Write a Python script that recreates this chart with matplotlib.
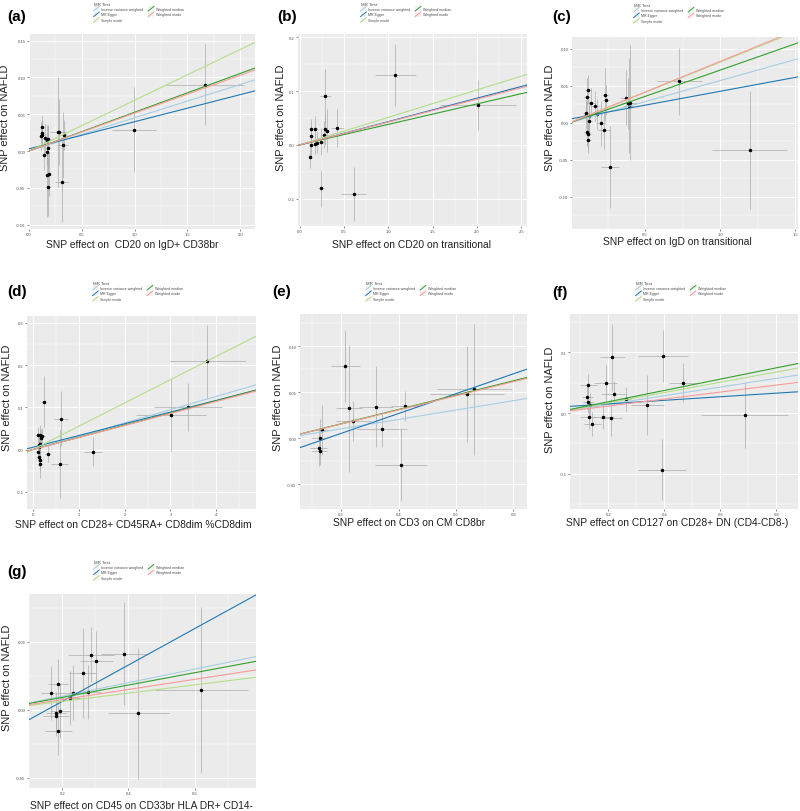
import numpy as np
import matplotlib as mpl
mpl.use('Agg')
import matplotlib.pyplot as plt
from matplotlib.lines import Line2D
from matplotlib.patches import Rectangle
from matplotlib.legend_handler import HandlerBase
from matplotlib.ticker import MultipleLocator, AutoMinorLocator

mpl.rcParams['font.family'] = ['Liberation Sans', 'DejaVu Sans']
mpl.rcParams['axes.unicode_minus'] = False

# ---- data -------------------------------------------------------------
methods = ["Inverse variance weighted", "MR Egger", "Simple mode",
           "Weighted median", "Weighted mode"]
method_colors = ["#A6CEE3", "#1F78B4", "#B2DF8A", "#33A02C", "#FB9A99"]

# (a)
a_bx = [0.123, 0.114, 0.126, 0.123, 0.151, 0.180, 0.170, 0.177, 0.167, 0.139,
        0.167, 0.192, 0.177, 0.278, 0.287, 0.334, 0.319, 0.309, 0.994, 1.666]
a_by = [0.032, 0.020, 0.024, 0.022, 0.017, 0.016, 0.015, 0.004, -0.001, -0.006,
        -0.033, -0.031, -0.049, 0.026, 0.026, 0.022, 0.008, -0.042, 0.029, 0.090]
a_sx = [0.02, 0.02, 0.02, 0.02, 0.02, 0.02, 0.02, 0.02, 0.02, 0.02,
        0.02, 0.02, 0.02, 0.08, 0.03, 0.03, 0.05, 0.065, 0.21, 0.37]
a_sy = [0.016, 0.020, 0.018, 0.015, 0.020, 0.020, 0.020, 0.030, 0.020, 0.020,
        0.057, 0.030, 0.040, 0.075, 0.045, 0.020, 0.045, 0.055, 0.058, 0.055]
a_slopes = [0.0452, 0.0368, 0.069, 0.0527, 0.0515]
a_egger_int = 0.003

# (b)
b_bx = [0.125, 0.128, 0.125, 0.121, 0.170, 0.177, 0.189, 0.245, 0.272, 0.283,
        0.290, 0.302, 0.426, 0.238, 0.611, 1.079, 2.008]
b_by = [0.030, 0.017, -0.0006, -0.023, 0.029, 0.002, 0.004, 0.006, 0.019, 0.030,
        0.090, 0.026, 0.031, -0.081, -0.091, 0.130, 0.074]
b_sx = [0.02, 0.02, 0.02, 0.02, 0.03, 0.02, 0.02, 0.03, 0.03, 0.03,
        0.066, 0.03, 0.075, 0.03, 0.14, 0.23, 0.43]
b_sy = [0.018, 0.020, 0.020, 0.020, 0.025, 0.020, 0.020, 0.025, 0.025, 0.030,
        0.050, 0.040, 0.035, 0.034, 0.050, 0.057, 0.047]
b_slopes = [0.0433, 0.0435, 0.051, 0.038, 0.0424]
b_egger_int = -0.0005

# (c)
c_bx = [0.108, 0.108, 0.117, 0.113, 0.139, 0.164, 0.128, 0.128, 0.110, 0.122,
        0.119, 0.181, 0.204, 0.223, 0.232, 0.241, 0.265, 0.372, 0.385, 0.392,
        0.398, 0.726, 1.197]
c_by = [0.0126, 0.011, 0.0446, 0.035, 0.027, 0.0225, 0.009, 0.002, -0.012, -0.015,
        -0.023, 0.012, -0.001, -0.010, 0.038, 0.031, -0.060, 0.034, 0.026, 0.023,
        0.027, 0.056, -0.037]
c_sx = [0.02, 0.02, 0.02, 0.02, 0.03, 0.03, 0.02, 0.02, 0.02, 0.02,
        0.02, 0.03, 0.03, 0.04, 0.02, 0.02, 0.06, 0.04, 0.03, 0.03,
        0.06, 0.15, 0.25]
c_sy = [0.015, 0.020, 0.020, 0.025, 0.020, 0.020, 0.020, 0.020, 0.020, 0.020,
        0.018, 0.020, 0.030, 0.025, 0.036, 0.020, 0.055, 0.037, 0.035, 0.064,
        0.078, 0.045, 0.080]
c_slopes = [0.057, 0.0376, 0.082, 0.0712, 0.083]
c_egger_int = 0.0049

# (d)
d_bx = [0.102, 0.153, 0.175, 0.204, 0.153, 0.131, 0.131, 0.117, 0.124, 0.153,
        0.153, 0.233, 0.320, 0.612, 0.583, 1.304, 3.015, 3.379, 3.800]
d_by = [0.034, 0.034, 0.028, 0.032, 0.014, 0.011, 0.007, -0.007, -0.018, -0.024,
        -0.034, 0.113, -0.0095, 0.073, -0.034, -0.005, 0.081, 0.101, 0.209]
d_sx = [0.05, 0.05, 0.05, 0.05, 0.05, 0.05, 0.05, 0.05, 0.05, 0.05,
        0.05, 0.06, 0.05, 0.16, 0.18, 0.20, 0.76, 0.74, 0.84]
d_sy = [0.020, 0.025, 0.020, 0.020, 0.020, 0.020, 0.020, 0.020, 0.020, 0.025,
        0.033, 0.061, 0.020, 0.065, 0.080, 0.034, 0.085, 0.057, 0.087]
d_slopes = [0.0315, 0.0278, 0.0552, 0.0289, 0.0285]
d_egger_int = 0.0054

# (e)
e_bx = [0.133, 0.126, 0.122, 0.125, 0.215, 0.228, 0.243, 0.321, 0.342, 0.424,
        0.408, 0.638, 0.664]
e_by = [0.0087, 0.0007, -0.0105, -0.0138, 0.0788, 0.0327, 0.0185, 0.0341, 0.0098,
        0.0352, -0.0294, 0.0483, 0.053]
e_sx = [0.02, 0.03, 0.03, 0.025, 0.05, 0.044, 0.06, 0.06, 0.087, 0.05,
        0.09, 0.128, 0.13]
e_sy = [0.027, 0.020, 0.020, 0.015, 0.039, 0.069, 0.022, 0.044, 0.019, 0.016,
        0.039, 0.052, 0.071]
e_slopes = [0.051, 0.108, 0.0775, 0.078, 0.0768]
e_egger_int = -0.0164

# (f)
f_bx = [0.129, 0.125, 0.128, 0.135, 0.130, 0.143, 0.181, 0.210, 0.190, 0.214,
        0.219, 0.262, 0.339, 0.396, 0.465, 0.390, 0.687]
f_by = [0.046, 0.026, 0.0175, 0.0137, -0.006, -0.0175, -0.0071, -0.0077, 0.049,
        0.092, 0.032, 0.023, 0.013, 0.094, 0.050, -0.093, -0.0033]
f_sx = [0.03, 0.02, 0.02, 0.02, 0.03, 0.03, 0.04, 0.04, 0.04, 0.045,
        0.045, 0.02, 0.06, 0.09, 0.05, 0.086, 0.155]
f_sy = [0.018, 0.020, 0.018, 0.020, 0.020, 0.020, 0.020, 0.030, 0.030, 0.055,
        0.020, 0.020, 0.049, 0.043, 0.032, 0.050, 0.055]
f_slopes = [0.0713, 0.0295, 0.0844, 0.093, 0.0575]
f_egger_int = 0.0091

# (g)
g_bx = [0.165, 0.187, 0.180, 0.180, 0.194, 0.188, 0.224, 0.231, 0.261, 0.278,
        0.286, 0.302, 0.386, 0.430, 0.621]
g_by = [0.0123, 0.0189, -0.0022, -0.0047, -0.0007, -0.0157, 0.0086, 0.0125, 0.027,
        0.013, 0.0404, 0.0358, 0.0412, -0.0027, 0.0142]
g_sx = [0.03, 0.03, 0.03, 0.04, 0.03, 0.04, 0.03, 0.04, 0.04, 0.04,
        0.07, 0.05, 0.07, 0.092, 0.141]
g_sy = [0.020, 0.018, 0.015, 0.015, 0.020, 0.018, 0.020, 0.020, 0.033, 0.020,
        0.020, 0.022, 0.038, 0.048, 0.061]
g_slopes = [0.0496, 0.1335, 0.0303, 0.0452, 0.0371]
g_egger_int = -0.0206

tags = ["(a)", "(b)", "(c)", "(d)", "(e)", "(f)", "(g)"]
exposures = ["CD20 on IgD+ CD38br", "CD20 on transitional", "IgD on transitional",
             "CD28+ CD45RA+ CD8dim %CD8dim", "CD3 on CM CD8br",
             "CD127 on CD28+ DN (CD4-CD8-)", "CD45 on CD33br HLA DR+ CD14-"]
x_titles = ["SNP effect on  " + exposures[0]] + \
           ["SNP effect on " + e for e in exposures[1:]]

# ---- layout (pixels in a 800x812 canvas) -------------------------------
W, H = 800, 812
panels = [
    # data, axes box (x0, y0, x1, y1), xlim, ylim, xstep, ystep,
    # tag pos, legend pos, xlabel pos, ylabel pos
    dict(d=(a_bx, a_by, a_sx, a_sy, a_slopes, a_egger_int), box=(29, 35, 255, 230),
         xlim=(0.0, 2.14), ylim=(-0.106, 0.159), xs=0.5, ys=0.05,
         tag=(17, 17), leg=(91, 0), xl=(132, 245), yl=(5, 118)),
    dict(d=(b_bx, b_by, b_sx, b_sy, b_slopes, b_egger_int), box=(298, 35, 527, 227),
         xlim=(-0.02, 2.566), ylim=(-0.151, 0.206), xs=0.5, ys=0.1,
         tag=(287, 17), leg=(358, 0), xl=(412, 245), yl=(281, 118)),
    dict(d=(c_bx, c_by, c_sx, c_sy, c_slopes, c_egger_int), box=(572, 38, 798, 230),
         xlim=(0.013, 1.518), ylim=(-0.144, 0.116), xs=0.5, ys=0.05,
         tag=(562, 17), leg=(631, 1), xl=(677, 242), yl=(550, 118)),
    dict(d=(d_bx, d_by, d_sx, d_sy, d_slopes, d_egger_int), box=(27, 317, 256, 510),
         xlim=(-0.13, 4.865), ylim=(-0.141, 0.3165), xs=1, ys=0.1,
         tag=(17, 292), leg=(90, 279), xl=(133, 525), yl=(7, 398)),
    dict(d=(e_bx, e_by, e_sx, e_sy, e_slopes, e_egger_int), box=(300, 315, 527, 510),
         xlim=(0.057, 0.847), ylim=(-0.077, 0.135), xs=0.2, ys=0.05,
         tag=(282, 292), leg=(363, 279), xl=(409, 523), yl=(278, 398)),
    dict(d=(f_bx, f_by, f_sx, f_sy, f_slopes, f_egger_int), box=(570, 315, 798, 510),
         xlim=(0.063, 0.877), ylim=(-0.158, 0.163), xs=0.2, ys=0.1,
         tag=(560, 293), leg=(633, 279), xl=(677, 523), yl=(550, 400)),
    dict(d=(g_bx, g_by, g_sx, g_sy, g_slopes, g_egger_int), box=(29, 595, 256, 789),
         xlim=(0.099, 0.786), ylim=(-0.0576, 0.085), xs=0.2, ys=0.05,
         tag=(17, 572), leg=(91, 558), xl=(141, 806), yl=(7, 678)),
]


class DiagHandler(HandlerBase):
    # ggplot-style abline legend key: grey box with a diagonal line
    def create_artists(self, legend, orig_handle, xdescent, ydescent,
                       width, height, fontsize, trans):
        bg = Rectangle((-xdescent, -ydescent), width, height,
                       facecolor="#F2F2F2", edgecolor="none", transform=trans)
        ln = Line2D([-xdescent, -xdescent + width],
                    [-ydescent, -ydescent + height],
                    color=orig_handle.get_color(), lw=0.7, transform=trans)
        return [bg, ln]


def fx(px):
    return px / W


def fy(py):
    return 1 - py / H


fig = plt.figure(figsize=(8, 8.12), dpi=100)

for i, p in enumerate(panels):
    bx, by, sx, sy, slopes, egger_int = p['d']
    x0, y0, x1, y1 = p['box']
    ax = fig.add_axes([fx(x0), fy(y1), fx(x1 - x0), (y1 - y0) / H])
    ax.set_facecolor("#EBEBEB")
    for s in ax.spines.values():
        s.set_visible(False)

    bx = np.array(bx)
    by = np.array(by)
    sx = np.array(sx)
    sy = np.array(sy)

    # error bars
    ax.errorbar(bx, by, xerr=sx, yerr=sy, fmt='none', ecolor="#ABABAB",
                elinewidth=0.5, capsize=0, zorder=2)
    # points
    ax.plot(bx, by, 'o', color='black', markersize=1.5, zorder=3)

    # MR lines
    handles = []
    for j, m in enumerate(methods):
        icpt = egger_int if m == "MR Egger" else 0.0
        ax.axline((0, icpt), slope=slopes[j], color=method_colors[j],
                  lw=0.8, zorder=4 + j)
        handles.append(Line2D([], [], color=method_colors[j]))

    ax.set_xlim(*p['xlim'])
    ax.set_ylim(*p['ylim'])
    ax.xaxis.set_major_locator(MultipleLocator(p['xs']))
    ax.yaxis.set_major_locator(MultipleLocator(p['ys']))
    ax.xaxis.set_minor_locator(AutoMinorLocator(2))
    ax.yaxis.set_minor_locator(AutoMinorLocator(2))
    ax.grid(which='major', color='white', lw=0.7)
    ax.grid(which='minor', color='white', lw=0.35)
    ax.set_axisbelow(True)
    ax.tick_params(which='major', labelsize=3, labelcolor='#4D4D4D',
                   length=1.5, width=0.4, color='#333333', pad=1)
    ax.tick_params(which='minor', length=0)

    # axis titles
    ax.set_xlabel(x_titles[i], fontsize=7.4, color='#222222')
    ax.xaxis.set_label_coords(fx(p['xl'][0]), fy(p['xl'][1]),
                              transform=fig.transFigure)
    ax.xaxis.label.set_va('center')
    ax.set_ylabel("SNP effect on NAFLD", fontsize=7.9, color='#222222')
    ax.yaxis.set_label_coords(fx(p['yl'][0]), fy(p['yl'][1]),
                              transform=fig.transFigure)
    ax.yaxis.label.set_va('center')

    # panel tag
    fig.text(fx(p['tag'][0]), fy(p['tag'][1]), tags[i], fontsize=11,
             fontweight='bold', ha='center', va='center')

    # legend
    leg = ax.legend(handles, methods, title="MR Test", ncol=2,
                    loc='upper left',
                    bbox_to_anchor=(fx(p['leg'][0]), fy(p['leg'][1])),
                    bbox_transform=fig.transFigure,
                    handler_map={Line2D: DiagHandler()},
                    fontsize=2.6, title_fontsize=3.2, frameon=False,
                    handlelength=1.6, handleheight=1.6, handletextpad=0.6,
                    labelspacing=0.25, columnspacing=1.2, borderpad=0.2,
                    alignment='left')
    for t in leg.get_texts():
        t.set_color('#4D4D4D')
    leg.get_title().set_color('#4D4D4D')

fig.savefig("out.png", dpi=100)
